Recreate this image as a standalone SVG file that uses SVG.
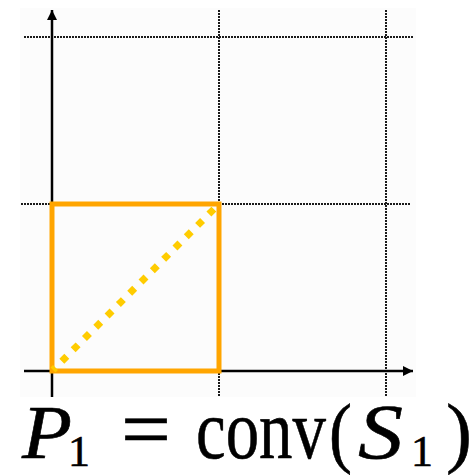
<svg xmlns="http://www.w3.org/2000/svg" width="473" height="475" viewBox="0 0 473 475">
<style>
.grid{stroke:#1a1a1a;stroke-width:2;stroke-dasharray:2 1;fill:none}
.axis{stroke:#000;stroke-width:2.5;fill:none}
.t{font-family:"Liberation Serif","Times New Roman",serif;fill:#000;stroke:#000;stroke-width:0.6}
</style>
<defs>
<marker id="arr" viewBox="0 0 10 10" refX="10" refY="5" markerWidth="4" markerHeight="4" orient="auto" markerUnits="strokeWidth">
<path d="M0,0 L10,5 L0,10 z" fill="#000"/>
</marker>
</defs>
<rect x="20" y="8" width="396" height="389" fill="#fcfcfc"/>
<g id="grid">
<line class="grid" x1="24" y1="37" x2="414" y2="37"/>
<line class="grid" x1="21" y1="204" x2="411" y2="204"/>
<line class="grid" x1="219" y1="10" x2="219" y2="397"/>
<line class="grid" x1="386" y1="10" x2="386" y2="397"/>
</g>
<g id="axes">
<line class="axis" x1="52" y1="397" x2="52" y2="10" marker-end="url(#arr)"/>
<line class="axis" x1="24" y1="371" x2="413" y2="371" marker-end="url(#arr)"/>
</g>
<g id="square">
<rect x="52" y="204" width="167" height="167" fill="none" stroke="#ffa500" stroke-width="5"/>
</g>
<g id="diagonal">
<line x1="53" y1="370" x2="219" y2="204" stroke="#ffcc00" stroke-width="7" stroke-dasharray="7 9" stroke-dashoffset="3.5"/>
</g>
<g id="label">
<text class="t" x="22" y="458" font-size="76" font-style="italic" textLength="50" lengthAdjust="spacingAndGlyphs">P</text>
<text class="t" x="68" y="466" font-size="45" textLength="22" lengthAdjust="spacingAndGlyphs">1</text>
<text class="t" x="121" y="458" font-size="84" textLength="50" lengthAdjust="spacingAndGlyphs">=</text>
<text class="t" x="196" y="458" font-size="84" textLength="130" lengthAdjust="spacingAndGlyphs">conv</text>
<text class="t" x="329" y="458" font-size="78" textLength="23" lengthAdjust="spacingAndGlyphs">(</text>
<text class="t" x="358" y="458" font-size="78" font-style="italic" textLength="45" lengthAdjust="spacingAndGlyphs">S</text>
<text class="t" x="411" y="466" font-size="45" textLength="22" lengthAdjust="spacingAndGlyphs">1</text>
<text class="t" x="446" y="458" font-size="78">)</text>
</g>
</svg>
